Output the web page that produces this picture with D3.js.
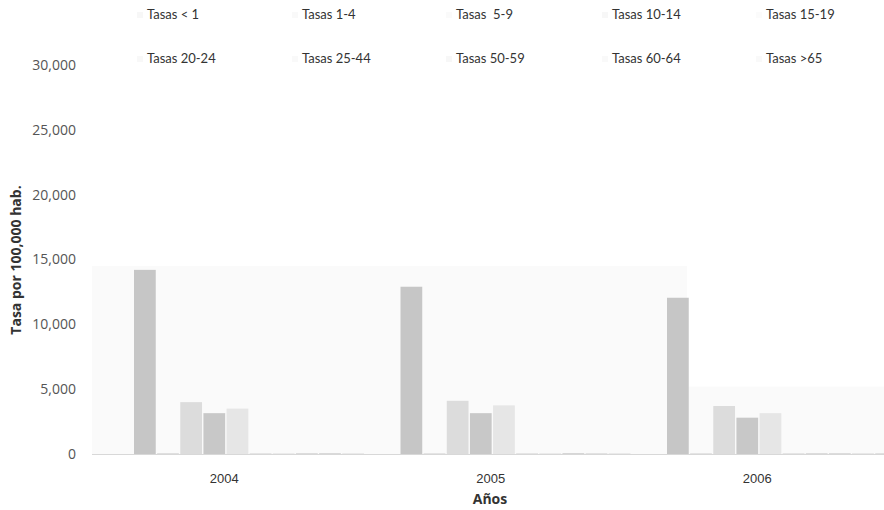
<!DOCTYPE html>
<html>
<head>
<meta charset="utf-8">
<script src="https://cdn.jsdelivr.net/npm/d3@7"></script>
<style>
  html, body { margin: 0; padding: 0; background: #fff; }
  svg { display: block; }
</style>
</head>
<body>
<svg id="chart" width="884" height="510"></svg>
<script>
// Tasas por 100,000 habitantes, por grupo de edad y año
const years = ["2004", "2005", "2006"];
const series = ["Tasas < 1", "Tasas 1-4", "Tasas  5-9", "Tasas 10-14", "Tasas 15-19",
                "Tasas 20-24", "Tasas 25-44", "Tasas 50-59", "Tasas 60-64", "Tasas >65"];
const values2004 = [14200, 60, 4000, 3150, 3500, 40, 30, 50, 70, 40];
const values2005 = [12900, 50, 4100, 3150, 3750, 40, 30, 60, 50, 40];
const values2006 = [12050, 50, 3700, 2800, 3150, 40, 60, 50, 40, 60];
const yTicks = [0, 5000, 10000, 15000, 20000, 25000, 30000];
const seriesColors = ["#c6c6c6", "#d8d8d8", "#dcdcdc", "#c8c8c8", "#e6e6e6",
                      "#d0d0d0", "#d4d4d4", "#cccccc", "#d6d6d6", "#dadada"];

const valuesByYear = { "2004": values2004, "2005": values2005, "2006": values2006 };

const svg = d3.select("#chart");

const y = d3.scaleLinear().domain([0, 30000]).range([454, 65]);
const x0 = d3.scaleBand().domain(years).range([91, 890.5]).padding(0);
const x1 = d3.scaleBand().domain(series).range([43, 273]).paddingInner(0.06);
const color = d3.scaleOrdinal().domain(series).range(seriesColors);

// faint plotting background
svg.append("rect").attr("x", 92).attr("y", y(14500)).attr("width", 595)
  .attr("height", y(0) - y(14500)).attr("fill", "#fafafa");
svg.append("rect").attr("x", 687).attr("y", y(5200)).attr("width", 197)
  .attr("height", y(0) - y(5200)).attr("fill", "#fafafa");

// bars
const groups = svg.append("g").selectAll("g")
  .data(years).join("g")
  .attr("transform", d => `translate(${x0(d)},0)`);

groups.selectAll("rect")
  .data(yr => series.map((s, i) => ({ s, v: valuesByYear[yr][i] })))
  .join("rect")
  .attr("x", d => x1(d.s))
  .attr("y", d => y(d.v))
  .attr("width", x1.bandwidth())
  .attr("height", d => y(0) - y(d.v))
  .attr("fill", d => color(d.s));

// baseline
svg.append("line").attr("x1", 92).attr("x2", 884)
  .attr("y1", y(0) + 0.5).attr("y2", y(0) + 0.5)
  .attr("stroke", "#d8d8d8").attr("stroke-width", 1);

// y axis (labels only)
const yAxis = svg.append("g").attr("transform", "translate(92,0)")
  .call(d3.axisLeft(y).tickValues(yTicks).tickFormat(d3.format(",")).tickSize(0).tickPadding(16));
yAxis.select(".domain").remove();
yAxis.selectAll("text")
  .attr("font-family", "'Open Sans', sans-serif").attr("font-size", 14).attr("fill", "#555");

// x axis (labels only)
const xAxis = svg.append("g").attr("transform", `translate(0,${y(0)})`)
  .call(d3.axisBottom(x0).tickSize(0).tickPadding(20));
xAxis.select(".domain").remove();
xAxis.selectAll("text")
  .attr("font-family", "'Liberation Sans Narrow', 'Liberation Sans', sans-serif")
  .attr("font-size", 13).attr("fill", "#333");

// axis titles
svg.append("text").attr("x", 490).attr("y", 504).attr("text-anchor", "middle")
  .attr("font-family", "'Open Sans', sans-serif").attr("font-weight", "bold")
  .attr("font-size", 14).attr("fill", "#333").text("Años");

svg.append("text").attr("transform", "translate(21,260) rotate(-90)")
  .attr("text-anchor", "middle")
  .attr("font-family", "'Open Sans', sans-serif").attr("font-weight", "bold")
  .attr("font-size", 14).attr("fill", "#333").text("Tasa por 100,000 hab.");

// legend: two rows of five
const legendX = [147, 302, 456, 612, 766];
const legendY = [19, 63];
const legend = svg.append("g").selectAll("g")
  .data(series).join("g")
  .attr("transform", (d, i) => `translate(${legendX[i % 5]},${legendY[Math.floor(i / 5)]})`);
legend.append("rect").attr("x", -10).attr("y", -7).attr("width", 6).attr("height", 6)
  .attr("fill", d => color(d)).attr("opacity", 0.15);
legend.append("text").attr("x", 0).attr("y", 0)
  .attr("font-family", "Lato, sans-serif").attr("font-size", 13).attr("fill", "#333")
  .style("white-space", "pre").attr("xml:space", "preserve")
  .text(d => d);
</script>
</body>
</html>
